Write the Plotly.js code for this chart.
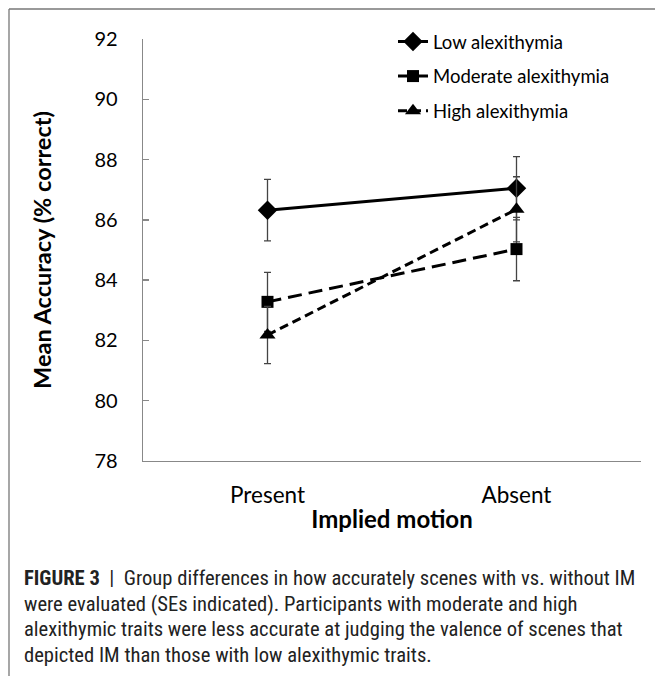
<!DOCTYPE html>
<html>
<head>
<meta charset="utf-8">
<script src="https://cdn.plot.ly/plotly-3.0.1.min.js"></script>
<style>html,body{margin:0;padding:0;background:#fff;}#chart{width:655px;height:676px;}</style>
</head>
<body>
<div id="chart"></div>
<script>
var categories = ["Present", "Absent"];
var seriesNames = ["Low alexithymia", "Moderate alexithymia", "High alexithymia"];
var lowMean = [86.32, 87.05];
var lowSE = [1.02, 1.05];
var moderateMean = [83.28, 85.03];
var moderateSE = [0.98, 1.05];
var highMean = [82.18, 86.35];
var highSE = [0.95, 1.08];
var yTicks = [78, 80, 82, 84, 86, 88, 90, 92];
var captionLines = [
  "<b>FIGURE 3</b>  |  Group differences in how accurately scenes with vs. without IM",
  "were evaluated (SEs indicated). Participants with moderate and high",
  "alexithymic traits were less accurate at judging the valence of scenes that",
  "depicted IM than those with low alexithymic traits."
];

var baseFont = "Lato, 'Open Sans', sans-serif";
function mk(name, y, se, symbol, size, dash, group) {
  return {
    type: "scatter", mode: "lines+markers", name: name, x: categories, y: y,
    legendgroup: group,
    line: {color: "#000", width: 3, dash: dash},
    marker: {symbol: symbol, size: size, color: "#000"},
    error_y: {type: "data", array: se, visible: true, color: "#444", thickness: 1.3, width: 3.5}
  };
}
var traces = [
  mk(seriesNames[0], lowMean, lowSE, "diamond", 15, "solid", "a"),
  mk(seriesNames[1], moderateMean, moderateSE, "square", 12, "14px,7px", "b"),
  mk(seriesNames[2], highMean, highSE, "triangle-up", 14, "9px,5px", "c")
];

// plot area: x 143..641, y 39..461
function px(x) { return (x - 143) / 498; }
function py(y) { return (461 - y) / 422; }

var annotations = captionLines.map(function (t, i) {
  return {
    text: t, xref: "paper", yref: "paper", x: px(22), y: py([578, 604, 629, 655][i]),
    xanchor: "left", yanchor: "middle", showarrow: false, align: "left",
    font: {family: "'Roboto Condensed', 'Liberation Sans Narrow', 'Liberation Sans', sans-serif", size: 20.6, color: "#222"}
  };
});

var layout = {
  width: 655, height: 676,
  margin: {l: 143, r: 14, t: 39, b: 215},
  paper_bgcolor: "#fff", plot_bgcolor: "#fff",
  font: {family: baseFont, color: "#000"},
  showlegend: true,
  legend: {
    x: px(393), y: py(23), xanchor: "left", yanchor: "top",
    traceorder: "grouped", tracegroupgap: 7.5,
    font: {family: baseFont, size: 18.5, color: "#000"},
    bgcolor: "rgba(0,0,0,0)"
  },
  xaxis: {
    type: "category", range: [-0.5, 1.5],
    showline: true, linecolor: "#888", linewidth: 1.3,
    showgrid: false, zeroline: false, ticks: "",
    ticklabelstandoff: 14,
    tickfont: {family: baseFont, size: 22.5, color: "#000"},
    title: {text: "<b>Implied motion</b>", font: {family: baseFont, size: 24, color: "#000"}, standoff: 4}
  },
  yaxis: {
    range: [78, 92], tickvals: yTicks, ticktext: yTicks.map(String),
    showline: true, linecolor: "#888", linewidth: 1.3,
    showgrid: false, zeroline: false,
    ticks: "inside", ticklen: 6, tickcolor: "#888", tickwidth: 1.3,
    ticklabelstandoff: 20,
    tickfont: {family: baseFont, size: 20, color: "#000"},
    title: {text: "<b>Mean Accuracy (% correct)</b>", font: {family: baseFont, size: 23.5, color: "#000"}, standoff: 36}
  },
  shapes: [
    {type: "line", xref: "paper", yref: "paper", x0: px(9), x1: px(660), y0: py(9), y1: py(9), line: {color: "#777", width: 1.3}},
    {type: "line", xref: "paper", yref: "paper", x0: px(9), x1: px(9), y0: py(9), y1: py(680), line: {color: "#777", width: 1.3}}
  ],
  annotations: annotations
};

Plotly.newPlot("chart", traces, layout, {displayModeBar: false, staticPlot: true});
</script>
</body>
</html>
